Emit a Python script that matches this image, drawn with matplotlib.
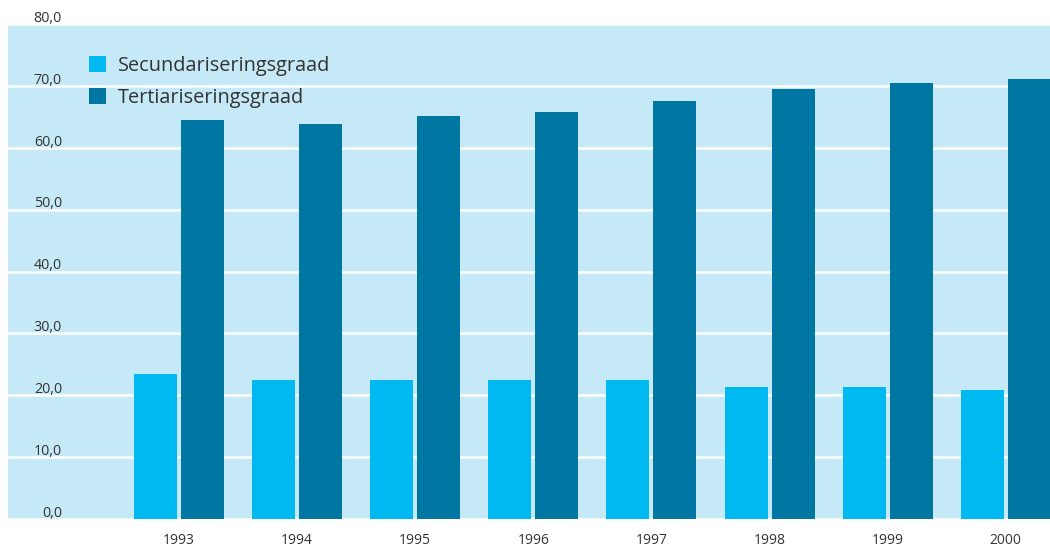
import numpy as np
import matplotlib
matplotlib.use('Agg')
import matplotlib.pyplot as plt

years = ['1993', '1994', '1995', '1996', '1997', '1998', '1999', '2000']
secundair = [23.4, 22.5, 22.5, 22.5, 22.5, 21.3, 21.3, 20.8]
tertiair = [64.5, 63.8, 65.1, 65.8, 67.5, 69.5, 70.4, 71.1]
y_ticks = [0, 10, 20, 30, 40, 50, 60, 70, 80]

plt.rcParams['font.family'] = ['Open Sans', 'DejaVu Sans']

fig = plt.figure(figsize=(10.5, 5.47), dpi=100)
ax = fig.add_axes([8 / 1050, 28 / 547, 1042 / 1050, 495 / 547])
ax.set_facecolor('#c6e9f8')

x = np.arange(len(years))
w = 0.364
ax.bar(x - 0.199, secundair, w, color='#00b9f1', label='Secundariseringsgraad', zorder=3)
ax.bar(x + 0.199, tertiair, w, color='#0076a3', label='Tertiariseringsgraad', zorder=3)

ax.set_xlim(-1.448, 7.375)
ax.set_ylim(0, 80)
for s in ax.spines.values():
    s.set_visible(False)

ax.set_yticks(y_ticks)
ax.yaxis.grid(True, color='white', linewidth=1.8, zorder=1)
ax.set_axisbelow(True)
ax.tick_params(axis='y', length=0, labelleft=False)

# y labels sit just on top of the gridlines, inside the plot
trans = ax.get_yaxis_transform()
for v in y_ticks:
    ax.text(54 / 1042, v + 0.35, f'{v:.1f}'.replace('.', ','), transform=trans,
            ha='right', va='baseline', fontsize=10.3, color='#333333',
            clip_on=False)

ax.set_xticks(x)
ax.set_xticklabels(years, fontsize=10, color='#333333')
ax.tick_params(axis='x', length=0, pad=10)

ax.legend(loc='upper left', bbox_to_anchor=(0.061, 0.972), frameon=False,
          fontsize=14.3, handlelength=0.82, handleheight=0.82,
          handletextpad=0.6, labelspacing=0.62, labelcolor='#333333')

fig.savefig('out.png', dpi=100)
